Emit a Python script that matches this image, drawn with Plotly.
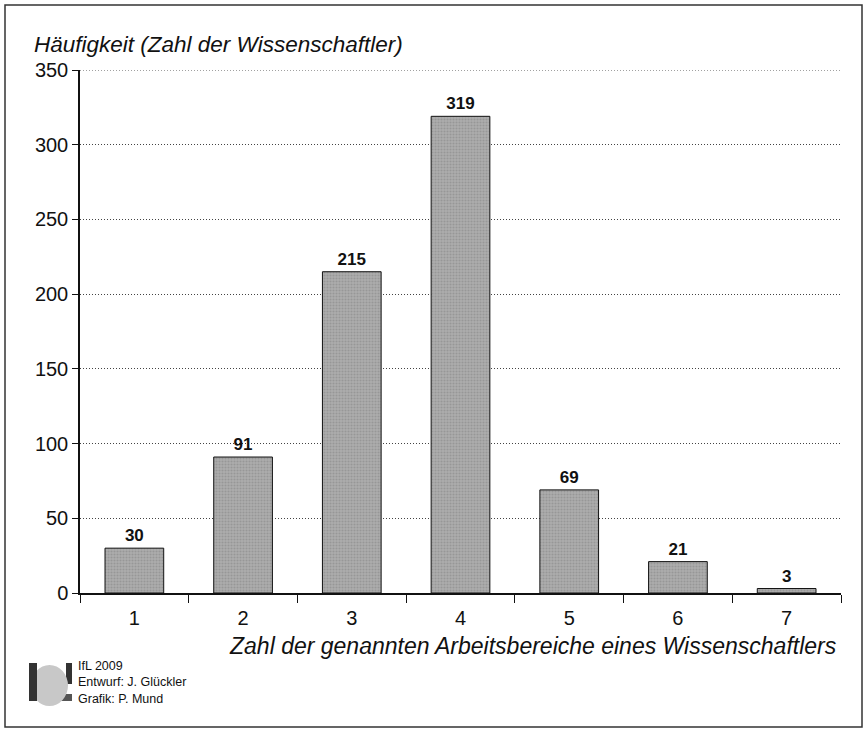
import plotly.graph_objects as go

categories = ["1", "2", "3", "4", "5", "6", "7"]
values = [30, 91, 215, 319, 69, 21, 3]
y_ticks = [0, 50, 100, 150, 200, 250, 300, 350]

W, H = 866, 731
L, R, T, B = 80, 841, 70, 593

def px(x):
    return (x - L) / (R - L)

def py(y):
    return (B - y) / (B - T)

font = "Liberation Sans, Arial, Helvetica, sans-serif"

fig = go.Figure()
fig.add_trace(go.Bar(
    x=categories, y=values,
    marker=dict(color="#a3a3a3", line=dict(color="#111", width=1),
                pattern=dict(shape=".", fgcolor="#828282", bgcolor="#adadad", size=3, solidity=0.4)),
    text=[str(v) for v in values], textposition="outside",
    textfont=dict(family=font, size=17, color="#111", weight="bold"),
    cliponaxis=False, width=0.54, hoverinfo="skip",
))

fig.update_layout(
    width=W, height=H,
    margin=dict(l=L, r=W - R, t=T, b=H - B),
    paper_bgcolor="white", plot_bgcolor="white",
    showlegend=False,
    font=dict(family=font, color="#111"),
    bargap=0.46,
)
fig.update_yaxes(
    range=[0, 350], tickvals=y_ticks, ticks="outside", ticklen=6, tickcolor="#111",
    showline=True, linecolor="#111", linewidth=1.5,
    showgrid=True, gridcolor="#444", griddash="1px,2px", gridwidth=1,
    tickfont=dict(size=20, family=font, color="#111"), zeroline=False,
)
fig.update_xaxes(
    ticks="outside", tickson="boundaries", ticklen=8, tickcolor="#111",
    showline=True, linecolor="#111", linewidth=1.5,
    tickfont=dict(size=20, family=font, color="#111"), ticklabelstandoff=6,
)

# top gridline at the maximum tick
fig.add_shape(type="line", xref="paper", yref="y", x0=0, x1=1, y0=y_ticks[-1], y1=y_ticks[-1],
              line=dict(color="#444", width=1, dash="1px,2px"), layer="below")

# frame
fig.add_shape(type="rect", xref="paper", yref="paper",
              x0=px(5), x1=px(862), y0=py(727), y1=py(5),
              line=dict(color="#333", width=1.5), fillcolor="rgba(0,0,0,0)")

# titles
fig.add_annotation(xref="paper", yref="paper", x=px(32), y=py(45), text="<i>Häufigkeit (Zahl der Wissenschaftler)</i>",
                   showarrow=False, xanchor="left", yanchor="middle", font=dict(size=22.5, family=font, color="#111"))
fig.add_annotation(xref="paper", yref="paper", x=px(839), y=py(646), text="<i>Zahl der genannten Arbeitsbereiche eines Wissenschaftlers</i>",
                   showarrow=False, xanchor="right", yanchor="middle", font=dict(size=23, family=font, color="#111"))

# logo
def rect(x0, y0, x1, y1, color):
    fig.add_shape(type="rect", xref="paper", yref="paper", x0=px(x0), x1=px(x1), y0=py(y1), y1=py(y0),
                  line=dict(width=0), fillcolor=color)
rect(66, 663, 72, 684, "#333")
rect(46, 694, 72, 701, "#555")
fig.add_shape(type="circle", xref="paper", yref="paper", x0=px(31), x1=px(68), y0=py(706), y1=py(665),
              line=dict(width=0), fillcolor="#c8c8c8")
rect(29, 663, 37, 701, "#333")

fig.add_annotation(xref="paper", yref="paper", x=px(76), y=py(682), align="left",
                   text="IfL 2009<br>Entwurf: J. Glückler<br>Grafik: P. Mund",
                   showarrow=False, xanchor="left", yanchor="middle", font=dict(size=12.5, family=font, color="#111"))

fig.write_html("out.html", config={"displayModeBar": False},
               post_script="document.body.style.margin='0';document.body.style.padding='0';")
